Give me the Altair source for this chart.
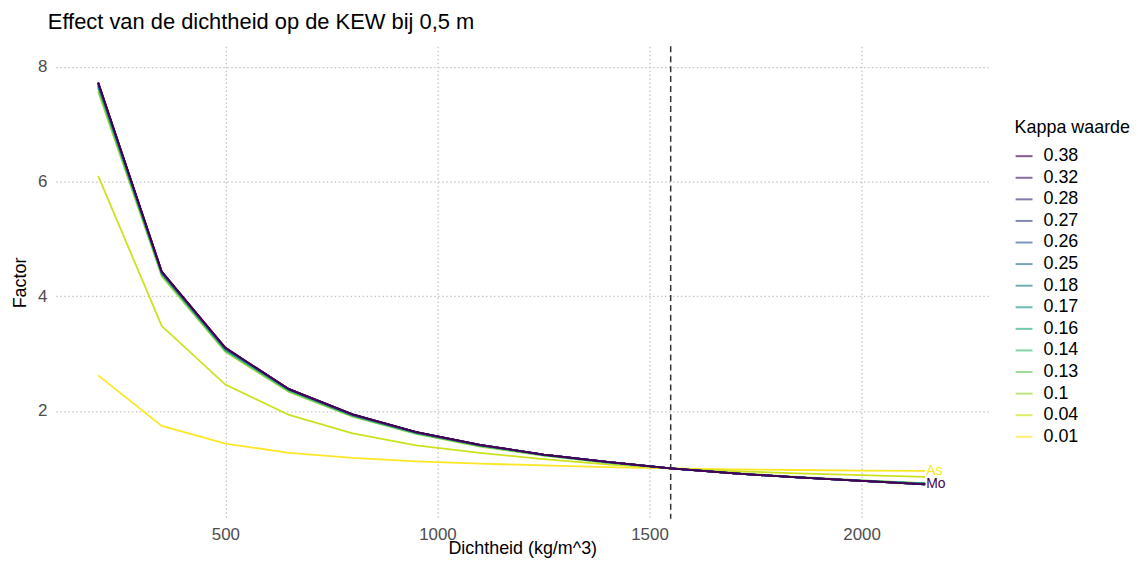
import altair as alt
import pandas as pd

# x values: density (kg/m^3)
dichtheid = [200, 350, 500, 650, 800, 950, 1100, 1250, 1400, 1550, 1700, 1850, 2000, 2150]

# legend order (kappa values)
kappa_order = ["0.38", "0.32", "0.28", "0.27", "0.26", "0.25", "0.18",
               "0.17", "0.16", "0.14", "0.13", "0.1", "0.04", "0.01"]

# viridis colours, one per kappa value (dark = high kappa)
kappa_colors = ["#440154", "#481b6d", "#463480", "#3e4a89", "#365d8d", "#2d718e", "#26828e",
                "#1f968b", "#27ad81", "#3fbc73", "#65cb5e", "#9bd93c", "#cde11d", "#fde725"]

# factor per kappa series
f_038 = [7.73, 4.43, 3.10, 2.38, 1.94, 1.63, 1.41, 1.24, 1.11, 1.00, 0.91, 0.84, 0.78, 0.72]
f_032 = [7.73, 4.43, 3.10, 2.38, 1.94, 1.63, 1.41, 1.24, 1.11, 1.00, 0.91, 0.84, 0.78, 0.72]
f_028 = [7.72, 4.42, 3.10, 2.38, 1.94, 1.63, 1.41, 1.24, 1.11, 1.00, 0.91, 0.84, 0.78, 0.72]
f_027 = [7.72, 4.42, 3.09, 2.38, 1.94, 1.63, 1.41, 1.24, 1.11, 1.00, 0.91, 0.84, 0.78, 0.72]
f_026 = [7.72, 4.42, 3.09, 2.38, 1.93, 1.63, 1.41, 1.24, 1.11, 1.00, 0.91, 0.84, 0.78, 0.72]
f_025 = [7.71, 4.42, 3.09, 2.38, 1.93, 1.63, 1.41, 1.24, 1.11, 1.00, 0.91, 0.84, 0.78, 0.72]
f_018 = [7.69, 4.41, 3.08, 2.37, 1.93, 1.62, 1.40, 1.24, 1.11, 1.00, 0.91, 0.84, 0.78, 0.73]
f_017 = [7.68, 4.40, 3.08, 2.37, 1.93, 1.62, 1.40, 1.24, 1.11, 1.00, 0.91, 0.84, 0.78, 0.73]
f_016 = [7.67, 4.40, 3.07, 2.36, 1.92, 1.62, 1.40, 1.23, 1.11, 1.00, 0.91, 0.84, 0.78, 0.73]
f_014 = [7.65, 4.39, 3.06, 2.36, 1.92, 1.61, 1.40, 1.23, 1.10, 1.00, 0.91, 0.84, 0.78, 0.73]
f_013 = [7.63, 4.38, 3.05, 2.35, 1.91, 1.61, 1.39, 1.23, 1.10, 1.00, 0.91, 0.84, 0.79, 0.73]
f_010 = [7.57, 4.35, 3.03, 2.33, 1.90, 1.60, 1.38, 1.22, 1.10, 1.00, 0.92, 0.85, 0.79, 0.74]
f_004 = [6.10, 3.48, 2.46, 1.93, 1.61, 1.40, 1.27, 1.16, 1.07, 1.00, 0.95, 0.91, 0.88, 0.85]
f_001 = [2.62, 1.74, 1.43, 1.27, 1.18, 1.12, 1.08, 1.05, 1.02, 1.00, 0.98, 0.97, 0.96, 0.955]

series = [f_038, f_032, f_028, f_027, f_026, f_025, f_018,
          f_017, f_016, f_014, f_013, f_010, f_004, f_001]

# reference density (dashed line)
ref_dichtheid = [1550]

# end labels
label_names = ["As", "Mo"]
label_kappa = ["0.01", "0.38"]
label_x = [dichtheid[-1], dichtheid[-1]]
label_y = [f_001[-1], f_038[-1]]

rows = []
# draw low kappa first so the dark line ends on top
for k, vals in reversed(list(zip(kappa_order, series))):
    for x, y in zip(dichtheid, vals):
        rows.append({"Dichtheid": x, "Factor": y, "Kappa": k})
df = pd.DataFrame(rows)

df_rule = pd.DataFrame({"Dichtheid": ref_dichtheid})
df_lab = pd.DataFrame({"Dichtheid": label_x, "Factor": label_y,
                       "Kappa": label_kappa, "Label": label_names})

color_scale = alt.Scale(domain=kappa_order, range=kappa_colors)
x_enc = alt.X("Dichtheid:Q",
              scale=alt.Scale(domain=[100, 2300], nice=False, zero=False),
              axis=alt.Axis(values=[500, 1000, 1500, 2000], format="d",
                            title="Dichtheid (kg/m^3)",
                            labelPadding=8, titlePadding=-3))
y_enc = alt.Y("Factor:Q",
              scale=alt.Scale(domain=[0.12, 8.36], nice=False, zero=False),
              axis=alt.Axis(values=[2, 4, 6, 8], format="d", title="Factor",
                            labelPadding=9, titlePadding=8))

rule = alt.Chart(df_rule).mark_rule(
    strokeDash=[6, 4], color="#333333", strokeWidth=1.5
).encode(x=alt.X("Dichtheid:Q"))

lines = alt.Chart(df).mark_line(strokeWidth=1.8).encode(
    x=x_enc,
    y=y_enc,
    color=alt.Color("Kappa:N", scale=color_scale,
                    legend=alt.Legend(title="Kappa waarde", orient="none",
                                      legendX=964, legendY=73)),
)

labels = alt.Chart(df_lab).mark_text(
    align="left", baseline="middle", fontSize=14, dx=1
).encode(
    x=alt.X("Dichtheid:Q"),
    y=alt.Y("Factor:Q"),
    text="Label:N",
    color=alt.Color("Kappa:N", scale=color_scale, legend=None),
)

chart = alt.layer(rule, lines, labels).resolve_legend(color="independent").properties(
    width=938,
    height=475,
    autosize=alt.AutoSizeParams(type="none"),
    padding={"left": 48, "top": 37, "right": 142, "bottom": 38},
    title=alt.TitleParams("Effect van de dichtheid op de KEW bij 0,5 m",
                          anchor="start", frame="group", fontSize=22,
                          fontWeight="normal", color="black",
                          baseline="alphabetic", offset=13, dx=-8, dy=18),
).configure(
    font="Liberation Sans",
    background="white",
).configure_view(
    stroke=None
).configure_axis(
    domain=False,
    ticks=False,
    tickSize=0,
    grid=True,
    gridColor="#C4C4C4",
    gridDash=[1.5, 2.5],
    gridWidth=1.3,
    labelColor="#4D4D4D",
    labelFontSize=17,
    titleFontSize=18,
    titleColor="black",
    titleFontWeight="normal",
).configure_legend(
    padding=0,
    titleFontSize=18,
    titleFontWeight="normal",
    titleColor="black",
    titlePadding=10,
    labelFontSize=18,
    labelColor="black",
    symbolType="stroke",
    symbolSize=289,
    symbolStrokeWidth=2,
    symbolOpacity=0.65,
    rowPadding=2.7,
    labelOffset=10,
)

chart.save("out.html", embed_options={"renderer": "svg", "actions": False})
